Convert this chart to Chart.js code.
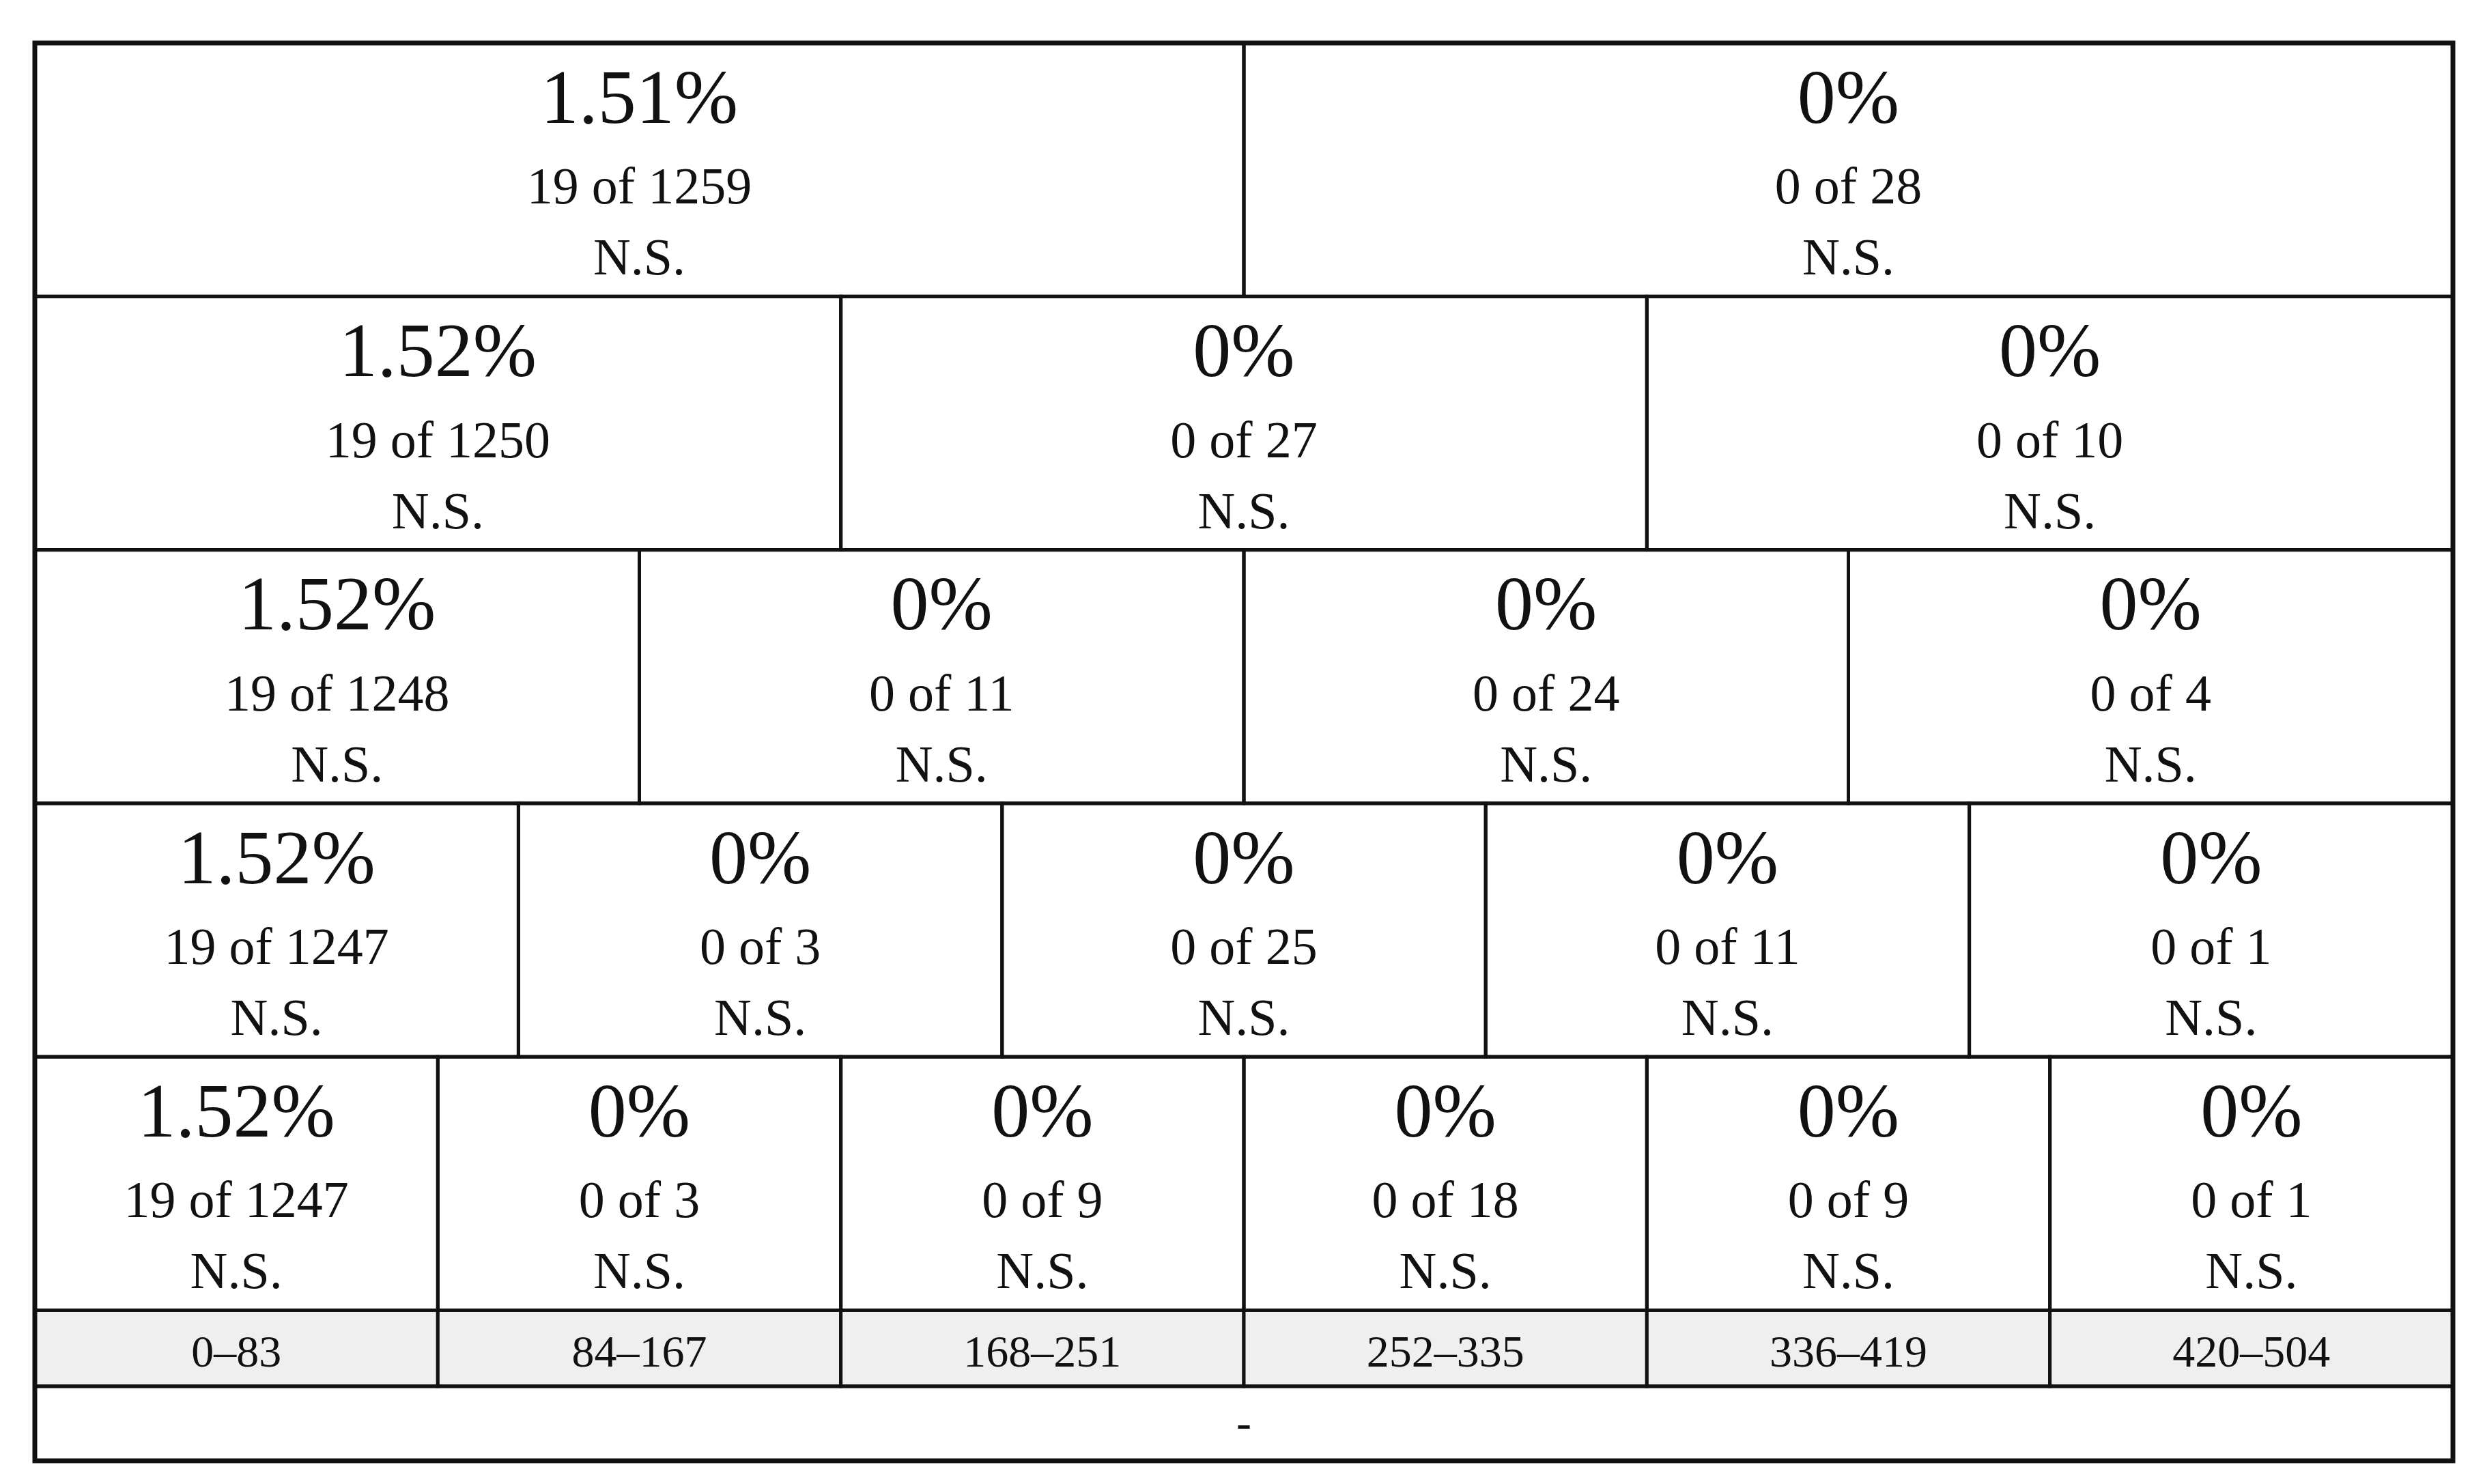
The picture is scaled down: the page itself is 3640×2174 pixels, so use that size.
<!DOCTYPE html>
<html><head><meta charset="utf-8">
<script src="https://cdn.jsdelivr.net/npm/chart.js@4/dist/chart.umd.min.js"></script>
<style>html,body{margin:0;padding:0;background:#fff}canvas{display:block}</style>
</head><body><canvas id="c" width="3640" height="2174"></canvas>
<script>
const pctRows = [
  ["1.51%","0%"],
  ["1.52%","0%","0%"],
  ["1.52%","0%","0%","0%"],
  ["1.52%","0%","0%","0%","0%"],
  ["1.52%","0%","0%","0%","0%","0%"]
];
const countRows = [
  ["19 of 1259","0 of 28"],
  ["19 of 1250","0 of 27","0 of 10"],
  ["19 of 1248","0 of 11","0 of 24","0 of 4"],
  ["19 of 1247","0 of 3","0 of 25","0 of 11","0 of 1"],
  ["19 of 1247","0 of 3","0 of 9","0 of 18","0 of 9","0 of 1"]
];
const sigLabel = "N.S.";
const rangeLabels = ["0–83","84–167","168–251","252–335","336–419","420–504"];
const footerLabel = "-";
const rowBounds = [0,1,2,3,4,5,5.3,5.594];

const FONT = "'Liberation Serif', 'DejaVu Serif', serif";
const cellPlugin = {
  id:'cells',
  afterDraw(chart){
    const {ctx, scales:{x,y}} = chart;
    const px = v=>x.getPixelForValue(v), py = v=>y.getPixelForValue(v);
    ctx.save();
    ctx.strokeStyle='#111'; ctx.fillStyle='#111';
    ctx.textAlign='center'; ctx.textBaseline='middle';
    const rect=(x0,x1,y0,y1,fill)=>{
      if(fill){ctx.fillStyle=fill;ctx.fillRect(px(x0),py(y0),px(x1)-px(x0),py(y1)-py(y0));ctx.fillStyle='#111';}
      ctx.lineWidth=5; ctx.strokeRect(px(x0),py(y0),px(x1)-px(x0),py(y1)-py(y0));
    };
    pctRows.forEach((row,r)=>{
      const n=row.length, y0=rowBounds[r], y1=rowBounds[r+1];
      row.forEach((p,i)=>{
        const x0=i/n, x1=(i+1)/n, cx=px((x0+x1)/2);
        rect(x0,x1,y0,y1);
        ctx.font="112px "+FONT; ctx.fillText(p,cx,py(y0+0.235));
        ctx.font="76px "+FONT; ctx.fillText(countRows[r][i],cx,py(y0+0.58));
        ctx.fillText(sigLabel,cx,py(y0+0.86));
      });
    });
    rangeLabels.forEach((l,i)=>{
      const n=rangeLabels.length, x0=i/n, x1=(i+1)/n;
      rect(x0,x1,rowBounds[5],rowBounds[6],'#efefef');
      ctx.font="66px "+FONT; ctx.fillText(l,px((x0+x1)/2),py(rowBounds[5]+0.175));
    });
    rect(0,1,rowBounds[6],rowBounds[7]);
    ctx.font="66px "+FONT; ctx.fillText(footerLabel,px(0.5),py(rowBounds[6]+0.155));
    ctx.lineWidth=7; ctx.strokeRect(px(0),py(0),px(1)-px(0),py(rowBounds[7])-py(0));
    ctx.restore();
  }
};
new Chart(document.getElementById('c'),{
  type:'scatter',
  data:{datasets:[{data:[],pointRadius:0}]},
  options:{
    responsive:false, animation:false, devicePixelRatio:1,
    layout:{padding:{left:51,right:47,top:63,bottom:34}},
    plugins:{legend:{display:false},tooltip:{enabled:false}},
    scales:{
      x:{type:'linear',min:0,max:1,display:false},
      y:{type:'linear',min:0,max:5.594,reverse:true,display:false}
    }
  },
  plugins:[cellPlugin]
});
</script></body></html>
